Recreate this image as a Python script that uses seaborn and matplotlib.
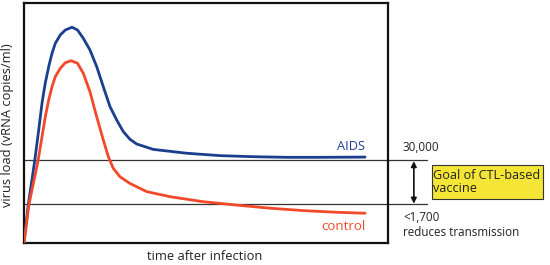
import matplotlib
matplotlib.use("Agg")
import matplotlib.pyplot as plt
import seaborn as sns
import pandas as pd
from matplotlib.patches import Rectangle

# Data (arbitrary units: time 0-100, load 0-100)
aids_time = [0, 1.10, 2.94, 4.04, 4.95, 5.85, 6.79, 7.69, 8.60, 9.97, 11.35, 13.19, 14.7, 16.29,
             18.13, 19.97, 21.79, 23.63, 25.47, 27.28, 29.12, 30.96, 35.52, 44.70, 53.85, 63.0,
             72.17, 81.3, 93.7]
aids_load = [0, 15.1, 34.2, 47.1, 58.3, 66.7, 73.5, 79.0, 83.2, 86.7, 88.75, 89.9, 88.75, 85.3,
             80.4, 73.5, 65.1, 56.8, 51.25, 46.4, 43.2, 41.25, 39.0, 37.4, 36.4, 35.96,
             35.7, 35.7, 35.8]
control_time = [0, 1.37, 3.85, 4.95, 5.85, 6.79, 7.69, 8.60, 9.97, 11.35, 12.9, 14.7, 16.29,
                18.13, 19.97, 21.79, 23.16, 24.53, 26.37, 29.12, 33.71, 40.1, 49.26, 58.43,
                67.58, 76.73, 85.9, 93.7]
control_load = [0, 16.1, 34.2, 44.3, 52.6, 59.6, 65.1, 69.3, 72.8, 75.1, 75.96, 74.9, 70.7,
                63.0, 52.6, 42.9, 36.0, 31.1, 27.6, 24.8, 21.4, 19.3, 17.2, 15.8,
                14.5, 13.5, 12.8, 12.4]
threshold_high = 34.4   # 30,000
threshold_low = 16.1    # <1,700
threshold_labels = ["30,000", "<1,700"]

df = pd.concat([
    pd.DataFrame({"time": aids_time, "load": aids_load, "series": "AIDS"}),
    pd.DataFrame({"time": control_time, "load": control_load, "series": "control"}),
])

sns.set_style("white")
plt.rcParams["font.family"] = ["Open Sans", "DejaVu Sans"]

fig = plt.figure(figsize=(5.5, 2.65), dpi=100)
ax = fig.add_axes([24/550, 22/265, 364/550, 240/265])

blue = "#1b3f8e"
red = "#f2492b"
sns.lineplot(data=df, x="time", y="load", hue="series", palette={"AIDS": blue, "control": red},
             sort=False, estimator=None, linewidth=2.0, legend=False, ax=ax, zorder=3,
             solid_joinstyle="round", solid_capstyle="round")

ax.set_xlim(0, 100)
ax.set_ylim(0, 100)
ax.set_xticks([])
ax.set_yticks([])
for s in ax.spines.values():
    s.set_visible(True)
    s.set_color("#111111")
    s.set_linewidth(1.6)

# threshold lines extend beyond the box
xr = 110.7
for yv in (threshold_high, threshold_low):
    ax.plot([0, xr], [yv, yv], color="#333333", lw=0.9, clip_on=False, zorder=2)

# double arrow
ax.annotate("", xy=(107.1, threshold_low + 0.3), xytext=(107.1, threshold_high - 0.3),
            arrowprops=dict(arrowstyle="<|-|>", color="#111111", lw=1.2, mutation_scale=8,
                            shrinkA=0, shrinkB=0), annotation_clip=False)

txtc = "#222222"
ax.text(93.7, 40.2, "AIDS", color=blue, fontsize=9.2, ha="right", va="center")
ax.text(93.7, 6.7, "control", color=red, fontsize=9.5, ha="right", va="center")
ax.text(104.1, 39.8, threshold_labels[0], color=txtc, fontsize=8.4, ha="left", va="center", clip_on=False)
ax.text(104.1, 10.8, threshold_labels[1], color=txtc, fontsize=8.4, ha="left", va="center", clip_on=False)
ax.text(104.1, 4.2, "reduces transmission", color=txtc, fontsize=8.4, ha="left", va="center", clip_on=False)

# yellow box
fig.patches.append(Rectangle((432/550, (265-199)/265), 111/550, 34/265, transform=fig.transFigure,
                             facecolor="#f4e536", edgecolor="#333333", lw=0.8))
fig.text(433/550, (265-182)/265, "Goal of CTL-based\nvaccine", color="#222222", fontsize=9.1,
         ha="left", va="center", linespacing=1.0)

ax.set_xlabel("time after infection", fontsize=9.3, color=txtc)
ax.set_ylabel("virus load (vRNA copies/ml)", fontsize=9.3, color=txtc)
ax.xaxis.set_label_coords(181/364, -14/240)
ax.yaxis.set_label_coords(-16/364, 118/240)
ax.xaxis.label.set_va("center")
ax.yaxis.label.set_va("center")

fig.savefig("out.png", dpi=100)
